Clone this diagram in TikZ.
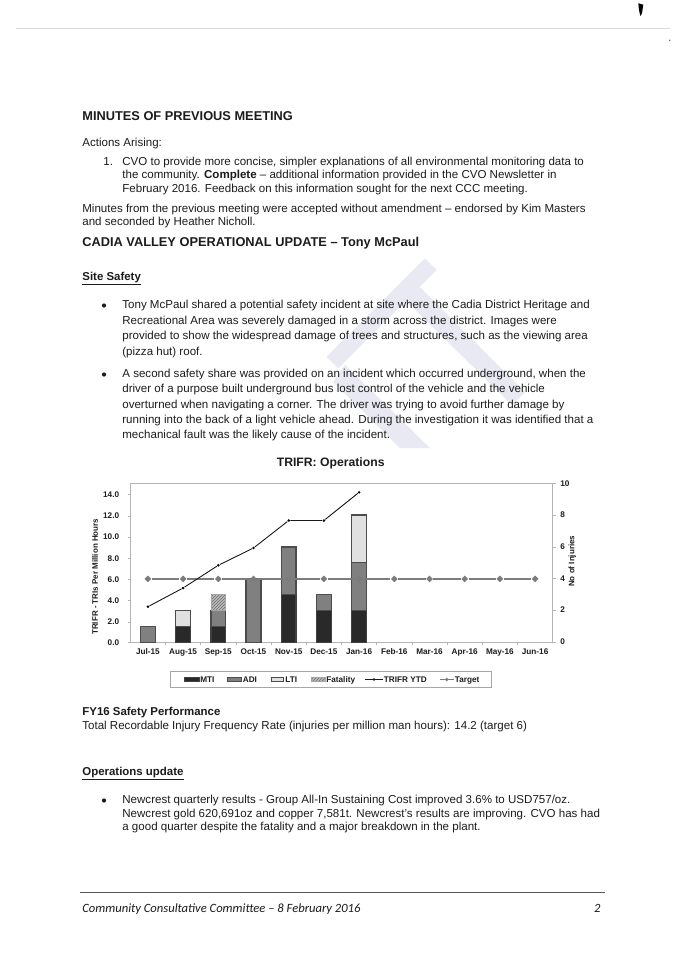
\documentclass[tikz,border=0pt]{standalone}
\usepackage{fontspec}
\setmainfont{Liberation Sans}
\newfontfamily\footfont[Ligatures=TeX]{Carlito}
\usetikzlibrary{patterns}
\usetikzlibrary{shapes.geometric}

\definecolor{inkblack}{HTML}{1C1C1C}
\definecolor{waterblue}{HTML}{E8E9F3}
\definecolor{axisgrey}{HTML}{B4B4B4}
\definecolor{targetgrey}{HTML}{7C7C7C}

\tikzset{every picture/.style={line width=0.75pt},
  bodytxt/.style={anchor=base west,inner sep=0pt,text=inkblack,font=\fontsize{11.55}{13}\selectfont},
  headtxt/.style={anchor=base west,inner sep=0pt,text=inkblack,font=\fontsize{12.8}{14}\selectfont\bfseries},
  subtxt/.style={anchor=base west,inner sep=0pt,text=inkblack,font=\fontsize{11.45}{13}\selectfont\bfseries},
  ticktxt/.style={inner sep=0pt,text=inkblack,font=\fontsize{8.2}{9}\selectfont\bfseries},
  bulletdot/.style={circle,fill=inkblack,inner sep=0pt,minimum size=4.2pt},
  mtibar/.style={draw=black!75,fill=black!84,line width=1.3pt},
  adibar/.style={draw=black!70,fill=black!50,line width=1.3pt},
  ltibar/.style={draw=black!70,fill=black!12,line width=1.3pt},
  fatalbar/.style={draw=black!35,preaction={fill=black!28},pattern=north east lines,pattern color=black!55,line width=0.5pt},
  ytdmark/.style={circle,fill=black,inner sep=0pt,minimum size=2.8pt},
  targetmark/.style={diamond,fill=targetgrey,inner sep=0pt,minimum size=7pt},
  ytdline/.style={black!90,line width=0.9pt},
  targetline/.style={targetgrey,line width=1.2pt},
  axisline/.style={axisgrey,line width=0.7pt}
}

\begin{document}
\begin{tikzpicture}[x=1pt,y=1pt,yscale=-1,xscale=1]
\useasboundingbox (0,0) rectangle (682,967);
\fill [white] (0,0) rectangle (682,967);

%Shape: watermark bands
\fill [waterblue] (425,258.3) -- (436.7,270) -- (338.3,368.3) -- (326.7,356.7) -- cycle ;
\fill [waterblue] (420,287) -- (525,392) -- (512,405) -- (405,300) -- cycle ;
\fill [waterblue] (345,365) -- (430,448) -- (400,448) -- (333,381.7) -- cycle ;

%Straight Lines: scan edge at the top
\draw [black!14,line width=1pt] (16,28.5) -- (670,28.5) ;
\fill [black] (638.3,3.3) -- (643.3,4.7) -- (642,13.3) -- (640.3,16) -- (639,10) -- cycle ;
\fill [black!60] (669.7,40.3) circle (0.8) ;

% Text Node
\node (hdgMinutes) [headtxt] at (82,120.7) {MINUTES OF PREVIOUS MEETING};
% Text Node
\node (txtActions) [bodytxt] at (82,146) {Actions Arising:};
% Text Node
\node (txtNumOne) [bodytxt] at (103,165.3) {1.};
% Text Node
\node (txtItemA) [bodytxt] at (122,165.3) {CVO to provide more concise, simpler explanations of all environmental monitoring data to};
% Text Node
\node (txtItemB) [bodytxt] at (122,178.7) {the community. \textbf{Complete} -- additional information provided in the CVO Newsletter in};
% Text Node
\node (txtItemC) [bodytxt] at (122,192) {February 2016. Feedback on this information sought for the next CCC meeting.};
% Text Node
\node (txtMinA) [bodytxt] at (82,212) {Minutes from the previous meeting were accepted without amendment -- endorsed by Kim Masters};
% Text Node
\node (txtMinB) [bodytxt] at (82,225.3) {and seconded by Heather Nicholl.};
% Text Node
\node (hdgCadia) [headtxt] at (82,246.7) {CADIA VALLEY OPERATIONAL UPDATE -- Tony McPaul};
% Text Node
\node (hdgSite) [subtxt] at (82,280) {\underline{Site Safety}};

\node (dotSiteA) [bulletdot] at (104,305.5) {};
% Text Node
\node (txtSiteA) [bodytxt] at (122,308.5) {Tony McPaul shared a potential safety incident at site where the Cadia District Heritage and};
% Text Node
\node (txtSiteB) [bodytxt] at (122,324) {Recreational Area was severely damaged in a storm across the district. Images were};
% Text Node
\node (txtSiteC) [bodytxt] at (122,339.3) {provided to show the widespread damage of trees and structures, such as the viewing area};
% Text Node
\node (txtSiteD) [bodytxt] at (122,355) {(pizza hut) roof.};

\node (dotSiteB) [bulletdot] at (104,374.5) {};
% Text Node
\node (txtSiteE) [bodytxt] at (122,377.3) {A second safety share was provided on an incident which occurred underground, when the};
% Text Node
\node (txtSiteF) [bodytxt] at (122,392.7) {driver of a purpose built underground bus lost control of the vehicle and the vehicle};
% Text Node
\node (txtSiteG) [bodytxt] at (122,408) {overturned when navigating a corner. The driver was trying to avoid further damage by};
% Text Node
\node (txtSiteH) [bodytxt] at (122,423.3) {running into the back of a light vehicle ahead. During the investigation it was identified that a};
% Text Node
\node (txtSiteI) [bodytxt] at (122,438.7) {mechanical fault was the likely cause of the incident.};

% Text Node
\node (hdgChart) [subtxt,anchor=base,font=\fontsize{12.2}{14}\selectfont\bfseries] at (330.7,466) {TRIFR: Operations};

%Straight Lines: chart frame
\draw [axisline] (130.3,483.3) -- (552.7,483.3) ;
\draw [axisline] (130.3,483.3) -- (130.3,642.3) -- (552.7,642.3) -- (552.7,483.3) ;
%Straight Lines: left ticks
\draw [axisline] (127.5,494.7) -- (130.3,494.7) (127.5,515.9) -- (130.3,515.9) (127.5,537.1) -- (130.3,537.1) (127.5,558.3) -- (130.3,558.3) (127.5,579.5) -- (130.3,579.5) (127.5,600.7) -- (130.3,600.7) (127.5,621.9) -- (130.3,621.9) (127.5,642.3) -- (130.3,642.3) ;
%Straight Lines: right ticks
\draw [axisline] (552.7,483.3) -- (555.5,483.3) (552.7,515.1) -- (555.5,515.1) (552.7,546.9) -- (555.5,546.9) (552.7,578.7) -- (555.5,578.7) (552.7,610.5) -- (555.5,610.5) (552.7,642.3) -- (555.5,642.3) ;
%Straight Lines: bottom ticks
\draw [axisline] (165.5,642.3) -- (165.5,645) (200.7,642.3) -- (200.7,645) (235.9,642.3) -- (235.9,645) (271.1,642.3) -- (271.1,645) (306.3,642.3) -- (306.3,645) (341.5,642.3) -- (341.5,645) (376.7,642.3) -- (376.7,645) (411.9,642.3) -- (411.9,645) (447.1,642.3) -- (447.1,645) (482.3,642.3) -- (482.3,645) (517.5,642.3) -- (517.5,645) ;

%Shape: stacked bars
\draw [adibar] (140.5,642.3) rectangle (155.3,626.4) ;
\draw [mtibar] (175.7,642.3) rectangle (190.5,626.4) ;
\draw [ltibar] (175.7,626.4) rectangle (190.5,610.5) ;
\draw [mtibar] (210.9,642.3) rectangle (225.7,626.4) ;
\draw [adibar] (210.9,626.4) rectangle (225.7,610.5) ;
\draw [fatalbar] (210.9,610.5) rectangle (225.7,594.6) ;
\draw [adibar] (246.1,642.3) rectangle (260.9,578.7) ;
\draw [mtibar] (281.3,642.3) rectangle (296.1,594.6) ;
\draw [adibar] (281.3,594.6) rectangle (296.1,546.9) ;
\draw [mtibar] (316.5,642.3) rectangle (331.3,610.5) ;
\draw [adibar] (316.5,610.5) rectangle (331.3,594.6) ;
\draw [mtibar] (351.7,642.3) rectangle (366.5,610.5) ;
\draw [adibar] (351.7,610.5) rectangle (366.5,562.8) ;
\draw [ltibar] (351.7,562.8) rectangle (366.5,515.1) ;

%Target series
\node (tgtJul) [targetmark] at (147.9,578.9) {};
\node (tgtAug) [targetmark] at (183.1,578.9) {};
\node (tgtSep) [targetmark] at (218.3,578.9) {};
\node (tgtOct) [targetmark] at (253.5,578.9) {};
\node (tgtNov) [targetmark] at (288.7,578.9) {};
\node (tgtDec) [targetmark] at (323.9,578.9) {};
\node (tgtJan) [targetmark] at (359.1,578.9) {};
\node (tgtFeb) [targetmark] at (394.3,578.9) {};
\node (tgtMar) [targetmark] at (429.5,578.9) {};
\node (tgtApr) [targetmark] at (464.7,578.9) {};
\node (tgtMay) [targetmark] at (499.9,578.9) {};
\node (tgtJun) [targetmark] at (535.1,578.9) {};
\draw [targetline] (tgtJul) -- (tgtAug) -- (tgtSep) -- (tgtOct) -- (tgtNov) -- (tgtDec) -- (tgtJan) -- (tgtFeb) -- (tgtMar) -- (tgtApr) -- (tgtMay) -- (tgtJun) ;

%TRIFR series
\node (ytdJul) [ytdmark] at (147.9,606.7) {};
\node (ytdAug) [ytdmark] at (183.1,588) {};
\node (ytdSep) [ytdmark] at (218.3,565.3) {};
\node (ytdOct) [ytdmark] at (253.5,548) {};
\node (ytdNov) [ytdmark] at (288.7,520.5) {};
\node (ytdDec) [ytdmark] at (323.9,520.5) {};
\node (ytdJan) [ytdmark] at (359.1,492.3) {};
\draw [ytdline] (ytdJul) -- (ytdAug) -- (ytdSep) -- (ytdOct) -- (ytdNov) -- (ytdDec) -- (ytdJan) ;

% Text Node
\node (lblLeftA) [ticktxt,anchor=east] at (119.5,494.7) {14.0};
\node (lblLeftB) [ticktxt,anchor=east] at (119.5,515.9) {12.0};
\node (lblLeftC) [ticktxt,anchor=east] at (119.5,537.1) {10.0};
\node (lblLeftD) [ticktxt,anchor=east] at (119.5,558.3) {8.0};
\node (lblLeftE) [ticktxt,anchor=east] at (119.5,579.5) {6.0};
\node (lblLeftF) [ticktxt,anchor=east] at (119.5,600.7) {4.0};
\node (lblLeftG) [ticktxt,anchor=east] at (119.5,621.9) {2.0};
\node (lblLeftH) [ticktxt,anchor=east] at (119.5,642.3) {0.0};
% Text Node
\node (lblRightA) [ticktxt,anchor=west] at (560,483.3) {10};
\node (lblRightB) [ticktxt,anchor=west] at (560,514.6) {8};
\node (lblRightC) [ticktxt,anchor=west] at (560,546.4) {6};
\node (lblRightD) [ticktxt,anchor=west] at (560,578.2) {4};
\node (lblRightE) [ticktxt,anchor=west] at (560,610) {2};
\node (lblRightF) [ticktxt,anchor=west] at (560,641.8) {0};
% Text Node
\node (lblAxisL) [ticktxt,rotate=90,font=\fontsize{8}{9}\selectfont\bfseries] at (95,576.7) {TRIFR - TRIs Per Million Hours};
\node (lblAxisR) [ticktxt,rotate=90,font=\fontsize{8}{9}\selectfont\bfseries] at (572.3,561.3) {No of Injuries};
% Text Node
\node (lblJul) [ticktxt,anchor=base] at (147.9,654) {Jul-15};
\node (lblAug) [ticktxt,anchor=base] at (183.1,654) {Aug-15};
\node (lblSep) [ticktxt,anchor=base] at (218.3,654) {Sep-15};
\node (lblOct) [ticktxt,anchor=base] at (253.5,654) {Oct-15};
\node (lblNov) [ticktxt,anchor=base] at (288.7,654) {Nov-15};
\node (lblDec) [ticktxt,anchor=base] at (323.9,654) {Dec-15};
\node (lblJan) [ticktxt,anchor=base] at (359.1,654) {Jan-16};
\node (lblFeb) [ticktxt,anchor=base] at (394.3,654) {Feb-16};
\node (lblMar) [ticktxt,anchor=base] at (429.5,654) {Mar-16};
\node (lblApr) [ticktxt,anchor=base] at (464.7,654) {Apr-16};
\node (lblMay) [ticktxt,anchor=base] at (499.9,654) {May-16};
\node (lblJun) [ticktxt,anchor=base] at (535.1,654) {Jun-16};

%Shape: legend
\draw [black!35,line width=0.7pt,fill=white] (170,671.7) rectangle (491,687.3) ;
\draw [mtibar,line width=0.5pt] (184.5,677.6) rectangle (199,681.4) ;
\node (legMti) [ticktxt,anchor=base west] at (200,682.4) {MTI};
\draw [adibar,line width=0.5pt] (226.8,677.6) rectangle (241.5,681.4) ;
\node (legAdi) [ticktxt,anchor=base west] at (242.5,682.4) {ADI};
\draw [ltibar,line width=0.5pt] (271,677.6) rectangle (283.5,681.4) ;
\node (legLti) [ticktxt,anchor=base west] at (285,682.4) {LTI};
\draw [fatalbar] (310.8,677.6) rectangle (325,681.4) ;
\node (legFatal) [ticktxt,anchor=base west] at (326,682.4) {Fatality};
\coordinate (legYtdA) at (365,679.5);
\coordinate (legYtdB) at (383,679.5);
\node (legYtdDot) [ytdmark] at (374,679.5) {};
\node (legYtd) [ticktxt,anchor=base west] at (383.5,682.4) {TRIFR YTD};
\draw [ytdline] (legYtdA) -- (legYtdB) ;
\coordinate (legTgtA) at (440,679.5);
\coordinate (legTgtB) at (453.5,679.5);
\node (legTgtDot) [targetmark,minimum size=4pt] at (446.7,679.5) {};
\node (legTgt) [ticktxt,anchor=base west] at (454.5,682.4) {Target};
\draw [targetline,line width=0.7pt] (legTgtA) -- (legTgtB) ;

% Text Node
\node (hdgFy) [subtxt] at (82,715.7) {FY16 Safety Performance};
% Text Node
\node (txtFy) [bodytxt] at (82,729) {Total Recordable Injury Frequency Rate (injuries per million man hours): 14.2 (target 6)};
% Text Node
\node (hdgOps) [subtxt] at (82,775.7) {\underline{Operations update}};

\node (dotOps) [bulletdot] at (104,800.5) {};
% Text Node
\node (txtOpsA) [bodytxt] at (122,803.7) {Newcrest quarterly results - Group All-In Sustaining Cost improved 3.6\% to USD757/oz.};
% Text Node
\node (txtOpsB) [bodytxt] at (122,817) {Newcrest gold 620,691oz and copper 7,581t. Newcrest's results are improving. CVO has had};
% Text Node
\node (txtOpsC) [bodytxt] at (122,830.3) {a good quarter despite the fatality and a major breakdown in the plant.};

%Straight Lines: footer rule
\draw [black!65,line width=0.9pt] (79.5,892.3) -- (604.5,892.3) ;
% Text Node
\node (txtFooter) [bodytxt,font=\footfont\itshape\fontsize{12.6}{15}\selectfont] at (82,912) {Community Consultative Committee -- 8 February 2016};
% Text Node
\node (txtPage) [bodytxt,anchor=base east,font=\footfont\itshape\fontsize{12.6}{15}\selectfont] at (601,912) {2};

\end{tikzpicture}
\end{document}
